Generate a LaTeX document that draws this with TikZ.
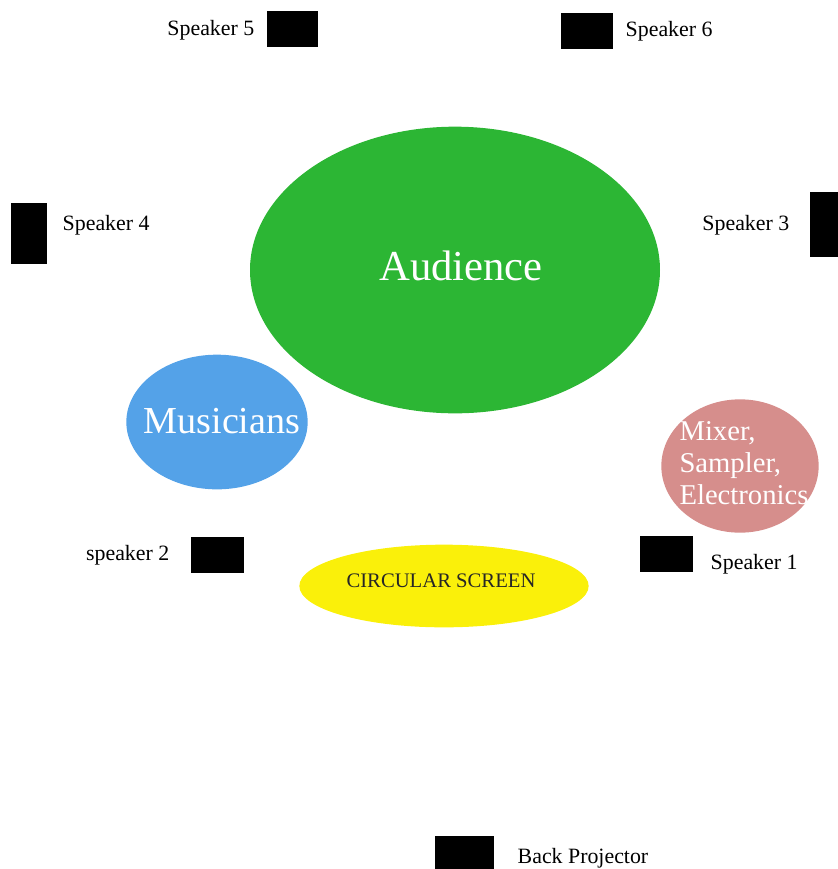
\documentclass[tikz,border=0pt]{standalone}
\usepackage{fontspec}
\setmainfont{Liberation Serif}
\usetikzlibrary{shapes.geometric}

\definecolor{audgreen}{RGB}{44,182,52}
\definecolor{musblue}{RGB}{84,162,232}
\definecolor{mixpink}{RGB}{214,142,140}
\definecolor{screenyellow}{RGB}{250,240,10}

\tikzset{
  spk/.style={fill=black, draw=none, rectangle, inner sep=0pt},
  spklabel/.style={font=\fontsize{16.4}{18}\selectfont},
  zone/.style={ellipse, draw=none, inner sep=0pt},
  zonetext/.style={text=white, inner sep=0pt}
}

\begin{document}
\begin{tikzpicture}[x=0.75pt, y=-0.75pt]
    \useasboundingbox (0,0) rectangle (838,869);

    % audience and stage
    \node[zone, fill=audgreen, minimum width=307.5, minimum height=215] (audience) at (455,270) {};
    \node[zone, fill=musblue, minimum width=136, minimum height=101] (musicians) at (217,422) {};
    \node[zone, fill=mixpink, minimum width=118, minimum height=100] (mixer) at (740,466) {};
    \node[zone, fill=screenyellow, minimum width=217, minimum height=62] (screen) at (444,586) {};

    \node[zonetext, font=\fontsize{32}{36}\selectfont] (taudience) at (461,266) {Audience};
    \node[zonetext, font=\fontsize{28.6}{32}\selectfont] (tmusicians) at (222,421) {Musicians};
    \node[zonetext, align=left, font=\fontsize{21.5}{24}\selectfont] (tmixer) at (744,463) {Mixer,\\Sampler,\\Electronics};
    \node[zonetext, text=black!85, font=\fontsize{15.5}{18}\selectfont] (tscreen) at (441,581) {CIRCULAR SCREEN};

    % speakers
    \node[spk, minimum width=38, minimum height=27] (spkfive) at (292.5,29) {};
    \node[spk, minimum width=39, minimum height=27] (spksix) at (587,30.5) {};
    \node[spk, minimum width=27, minimum height=46] (spkfour) at (29,233.5) {};
    \node[spk, minimum width=30, minimum height=49] (spkthree) at (830,224.5) {};
    \node[spk, minimum width=40, minimum height=27] (spktwo) at (217.5,555) {};
    \node[spk, minimum width=40, minimum height=27] (spkone) at (666.5,554) {};
    \node[spk, minimum width=44, minimum height=30] (projector) at (464.5,856) {};

    \node[spklabel, anchor=east] (lfive) at (259,30) {Speaker 5};
    \node[spklabel, anchor=west] (lsix) at (621,31) {Speaker 6};
    \node[spklabel, anchor=west] (lfour) at (58,225) {Speaker 4};
    \node[spklabel, anchor=east] (lthree) at (794,225) {Speaker 3};
    \node[spklabel, anchor=east] (ltwo) at (174,555) {speaker 2};
    \node[spklabel, anchor=west] (lone) at (706,564) {Speaker 1};
    \node[spklabel, anchor=west] (lproj) at (513,858) {Back Projector};

\end{tikzpicture}
\end{document}
